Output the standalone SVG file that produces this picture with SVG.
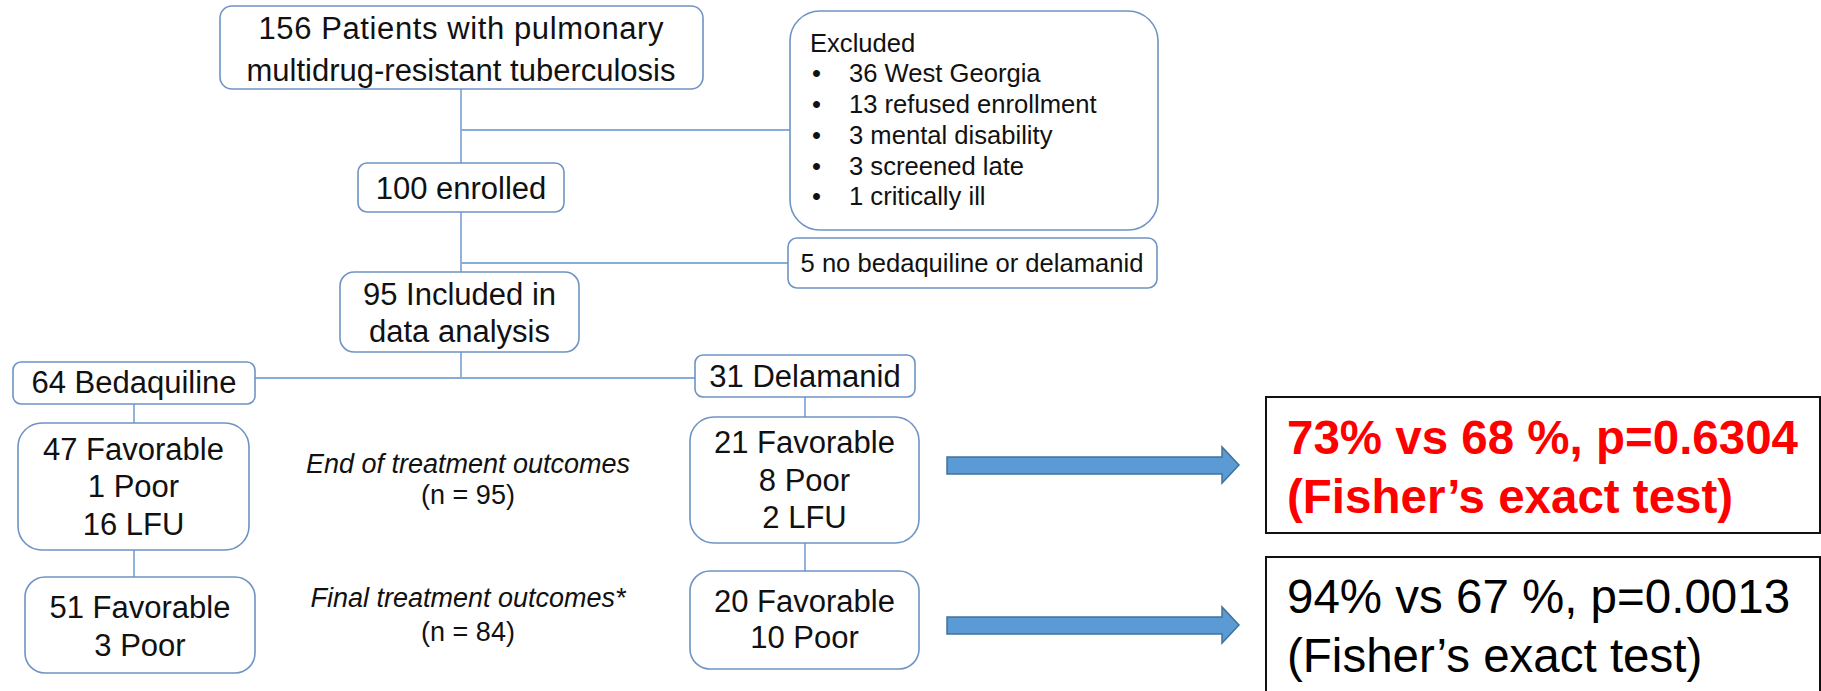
<svg xmlns="http://www.w3.org/2000/svg" width="1821" height="691" viewBox="0 0 1821 691">
<style>
.box{fill:#fff;stroke:#6f93c4;stroke-width:1.6}
.t{font-family:"Liberation Sans",Arial,sans-serif;font-size:31px;fill:#111;text-anchor:middle}
.s{font-family:"Liberation Sans",Arial,sans-serif;font-size:25.6px;fill:#111}
.lab{font-family:"Liberation Sans",Arial,sans-serif;font-size:27px;fill:#111;text-anchor:middle}
.conn{stroke:#86acd9;stroke-width:1.8;fill:none}
.arr{fill:#5b9bd5;stroke:#41719c;stroke-width:1.5}
.res{fill:#fff;stroke:#111;stroke-width:2}
.r{font-family:"Liberation Sans",Arial,sans-serif;font-size:47.5px}
</style>
<rect width="1821" height="691" fill="#fff"/>
<g id="connectors">
<path class="conn" d="M461 89V163M461 130H790M461 212V272M461 263H788M461 352V378M255 378H695M134 404V423M805 397V417M134 550V577M805 543V571"/>
</g>
<g id="n-start">
<rect class="box" x="220" y="6" width="483" height="83" rx="12"/>
<text class="t" x="461" y="39" textLength="405" lengthAdjust="spacing">156 Patients with pulmonary</text>
<text class="t" x="461" y="81">multidrug-resistant tuberculosis</text>
</g>
<g id="n-excluded">
<rect class="box" x="790" y="11" width="368" height="219" rx="30"/>
<text class="s" x="810" y="52">Excluded</text>
<g class="s">
<text x="812" y="82">•</text><text x="849" y="82">36 West Georgia</text>
<text x="812" y="113">•</text><text x="849" y="113">13 refused enrollment</text>
<text x="812" y="144">•</text><text x="849" y="144">3 mental disability</text>
<text x="812" y="175">•</text><text x="849" y="175">3 screened late</text>
<text x="812" y="205">•</text><text x="849" y="205">1 critically ill</text>
</g>
</g>
<g id="n-enrolled">
<rect class="box" x="358" y="163" width="206" height="49" rx="9"/>
<text class="t" x="461" y="199">100 enrolled</text>
</g>
<g id="n-nobdq">
<rect class="box" x="788" y="238" width="369" height="50" rx="9"/>
<text class="s" x="972" y="272" text-anchor="middle">5 no bedaquiline or delamanid</text>
</g>
<g id="n-included">
<rect class="box" x="340" y="272" width="239" height="80" rx="14"/>
<text class="t" x="459.5" y="305">95 Included in</text>
<text class="t" x="459.5" y="342">data analysis</text>
</g>
<g id="n-bdq">
<rect class="box" x="13" y="362" width="242" height="42" rx="8"/>
<text class="t" x="134" y="393">64 Bedaquiline</text>
</g>
<g id="n-dlm">
<rect class="box" x="695" y="355" width="220" height="42" rx="8"/>
<text class="t" x="805" y="387">31 Delamanid</text>
</g>
<g id="n-bdq-end">
<rect class="box" x="18" y="423" width="231" height="127" rx="24"/>
<text class="t" x="133.5" y="460">47 Favorable</text>
<text class="t" x="133.5" y="497">1 Poor</text>
<text class="t" x="133.5" y="535">16 LFU</text>
</g>
<g id="n-dlm-end">
<rect class="box" x="690" y="417" width="229" height="126" rx="24"/>
<text class="t" x="804.5" y="453">21 Favorable</text>
<text class="t" x="804.5" y="491">8 Poor</text>
<text class="t" x="804.5" y="528">2 LFU</text>
</g>
<g id="n-bdq-final">
<rect class="box" x="25" y="577" width="230" height="96" rx="20"/>
<text class="t" x="140" y="618">51 Favorable</text>
<text class="t" x="140" y="656">3 Poor</text>
</g>
<g id="n-dlm-final">
<rect class="box" x="690" y="571" width="229" height="98" rx="20"/>
<text class="t" x="804.5" y="612">20 Favorable</text>
<text class="t" x="804.5" y="648">10 Poor</text>
</g>
<g id="labels">
<text class="lab" x="468" y="473" font-style="italic">End of treatment outcomes</text>
<text class="lab" x="468" y="504">(n = 95)</text>
<text class="lab" x="468" y="607" font-style="italic">Final treatment outcomes*</text>
<text class="lab" x="468" y="641">(n = 84)</text>
</g>
<g id="arrows">
<path class="arr" d="M947 457H1222V447L1239 465L1222 483V474H947Z"/>
<path class="arr" d="M947 617H1222V607L1239 625L1222 643V634H947Z"/>
</g>
<g id="result-end">
<rect class="res" x="1266" y="397" width="554" height="136"/>
<text class="r" x="1287" y="454" fill="#ff0000" font-weight="bold">73% vs 68 %, p=0.6304</text>
<text class="r" x="1287" y="513" fill="#ff0000" font-weight="bold">(Fisher’s exact test)</text>
</g>
<g id="result-final">
<rect class="res" x="1266" y="557" width="554" height="150"/>
<text class="r" x="1287" y="613" fill="#000">94% vs 67 %, p=0.0013</text>
<text class="r" x="1287" y="672" fill="#000">(Fisher’s exact test)</text>
</g>
</svg>
